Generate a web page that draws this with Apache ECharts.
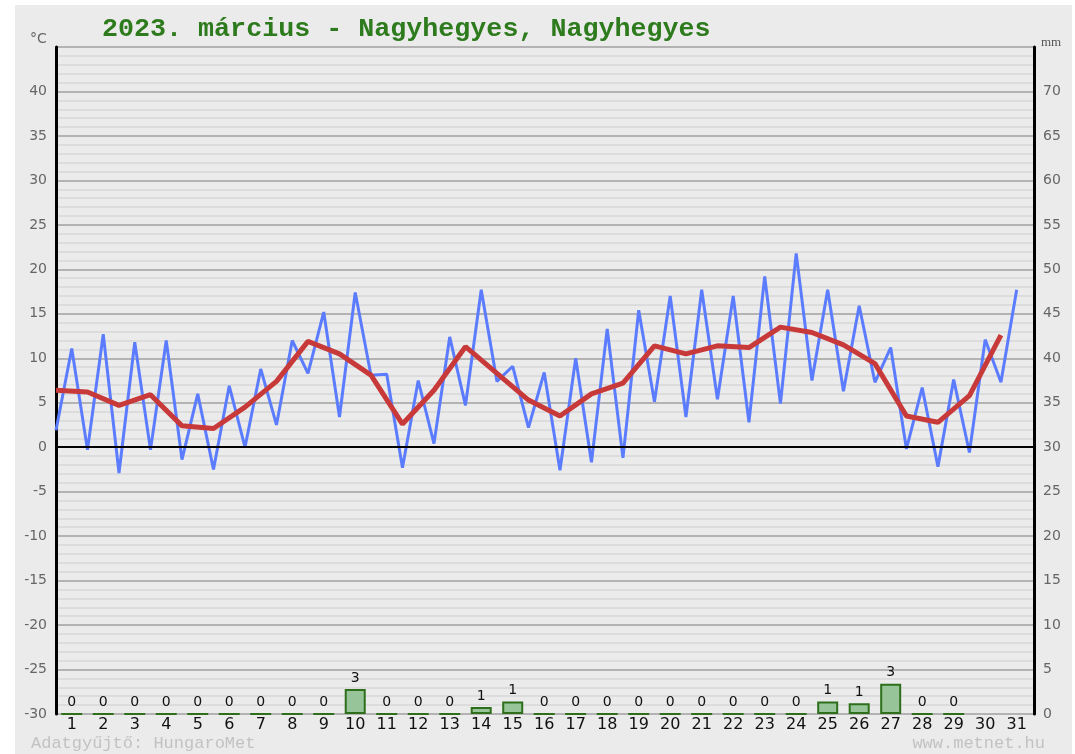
<!DOCTYPE html>
<html>
<head>
<meta charset="utf-8">
<script src="https://cdn.jsdelivr.net/npm/echarts@6/dist/echarts.min.js"></script>
<style>
html,body{margin:0;padding:0;background:#ffffff;}
#wrap{position:relative;width:1075px;height:754px;background:#ffffff;}
#panel{position:absolute;left:15px;top:5px;width:1057px;height:749px;background:#ebebeb;}
#chart{position:absolute;left:0;top:0;width:1075px;height:754px;}
</style>
</head>
<body>
<div id="wrap"><div id="panel"></div><div id="chart"></div></div>
<script>
// Day numbers (x-axis tick labels)
const days = [1,2,3,4,5,6,7,8,9,10,11,12,13,14,15,16,17,18,19,20,21,22,23,24,25,26,27,28,29,30,31];
// Half-day temperature readings (°C): first reading of each day (night) and second (afternoon)
const tempNight = [1.9,-0.3,-2.9,-0.3,-1.4,-2.5,0.0,2.5,8.3,3.4,8.1,-2.3,0.4,4.7,7.4,2.2,-2.6,-1.7,-1.2,5.1,3.4,5.4,2.8,4.9,7.5,6.3,7.3,-0.2,-2.2,-0.6,7.3];
const tempDay   = [11.1,12.7,11.8,12.0,6.0,6.9,8.8,12.0,15.2,17.4,8.2,7.5,12.4,17.7,9.1,8.4,10.0,13.3,15.4,17.0,17.7,17.0,19.2,21.8,17.7,15.9,11.2,6.7,7.6,12.1,17.7];
// Daily mean temperature (°C)
const tempMean  = [6.4,6.2,4.7,5.9,2.4,2.1,4.5,7.4,11.9,10.5,8.1,2.6,6.4,11.3,8.3,5.3,3.5,6.0,7.2,11.4,10.5,11.4,11.2,13.5,12.9,11.5,9.4,3.5,2.8,5.8,12.6];
// Daily precipitation (mm); null = no data
const precip    = [0,0,0,0,0,0,0,0,0,2.8,0,0,0,0.8,1.4,0,0,0,0,0,0,0,0,0,1.4,1.2,3.4,0,0,null,null];

const titleText = '2023. március - Nagyhegyes, Nagyhegyes';

const blueData = [];
days.forEach((d, i) => {
  blueData.push([d - 0.5, tempNight[i]]);
  blueData.push([d, tempDay[i]]);
});
const redData = days.map((d, i) => [d - 0.5, tempMean[i]]);
const barData = days.map((d, i) => [d, precip[i]]);

const chart = echarts.init(document.getElementById('chart'), null, {renderer: 'canvas'});
chart.setOption({
  backgroundColor: 'transparent',
  animation: false,
  title: {
    text: titleText,
    left: 97,
    top: 11,
    textStyle: {fontFamily: 'Liberation Mono', fontWeight: 'bold', fontSize: 26.7, color: '#2e7b1e'}
  },
  grid: {left: 56, right: 41, top: 47, bottom: 40, containLabel: false},
  graphic: [
    {type: 'text', left: 30, top: 32, style: {text: '°C', font: '14px "DejaVu Sans"', fill: '#666666'}},
    {type: 'text', left: 1041, top: 36, style: {text: 'mm', font: '13px "Liberation Serif"', fill: '#555555'}},
    {type: 'text', left: 31, top: 735, style: {text: 'Adatgyűjtő: HungaroMet', font: '17px "Liberation Mono"', fill: '#c2c2c2'}},
    {type: 'text', right: 30, top: 735, style: {text: 'www.metnet.hu', font: '17px "Liberation Mono"', fill: '#c2c2c2'}}
  ],
  xAxis: {
    type: 'value',
    min: 0.5,
    max: 31.55,
    axisLine: {show: false},
    axisTick: {show: false},
    splitLine: {show: false},
    axisLabel: {
      customValues: days,
      formatter: v => String(v),
      color: '#111111',
      fontFamily: 'DejaVu Sans',
      fontSize: 16,
      margin: 3
    }
  },
  yAxis: [
    {
      type: 'value',
      min: -30,
      max: 45,
      interval: 5,
      position: 'left',
      axisLine: {show: true, onZero: false, lineStyle: {color: '#000000', width: 3}},
      axisTick: {show: false},
      axisLabel: {formatter: v => (v === 45 ? '' : String(v)), color: '#666666', fontFamily: 'DejaVu Sans', fontSize: 14, margin: 9},
      splitLine: {show: true, lineStyle: {color: '#a0a0a0', width: 1.5}},
      minorTick: {show: false, splitNumber: 5},
      minorSplitLine: {show: true, lineStyle: {color: '#d7d7d7', width: 1.5}}
    },
    {
      type: 'value',
      min: 0,
      max: 75,
      interval: 5,
      position: 'right',
      axisLine: {show: true, onZero: false, lineStyle: {color: '#000000', width: 3}},
      axisTick: {show: false},
      axisLabel: {formatter: v => (v === 75 ? '' : String(v)), color: '#666666', fontFamily: 'DejaVu Sans', fontSize: 14, margin: 9},
      splitLine: {show: false}
    }
  ],
  series: [
    {
      type: 'bar',
      yAxisIndex: 1,
      data: barData,
      barWidth: 21,
      z: 2,
      itemStyle: {color: '#98c49a', borderColor: '#2d6f1a', borderWidth: 2},
      label: {
        show: true,
        position: 'top',
        distance: 4,
        color: '#111111',
        fontFamily: 'DejaVu Sans',
        fontSize: 14,
        formatter: p => (p.value[1] == null ? '' : String(Math.round(p.value[1])))
      }
    },
    {
      type: 'line',
      data: blueData,
      symbol: 'none',
      z: 3,
      lineStyle: {color: '#5b7cff', width: 3},
      markLine: {
        silent: true,
        symbol: 'none',
        label: {show: false},
        lineStyle: {color: '#000000', type: 'solid', width: 2},
        data: [{yAxis: 0}]
      }
    },
    {
      type: 'line',
      data: redData,
      symbol: 'none',
      z: 4,
      lineStyle: {color: '#c83a3a', width: 5}
    }
  ]
});
</script>
</body>
</html>
